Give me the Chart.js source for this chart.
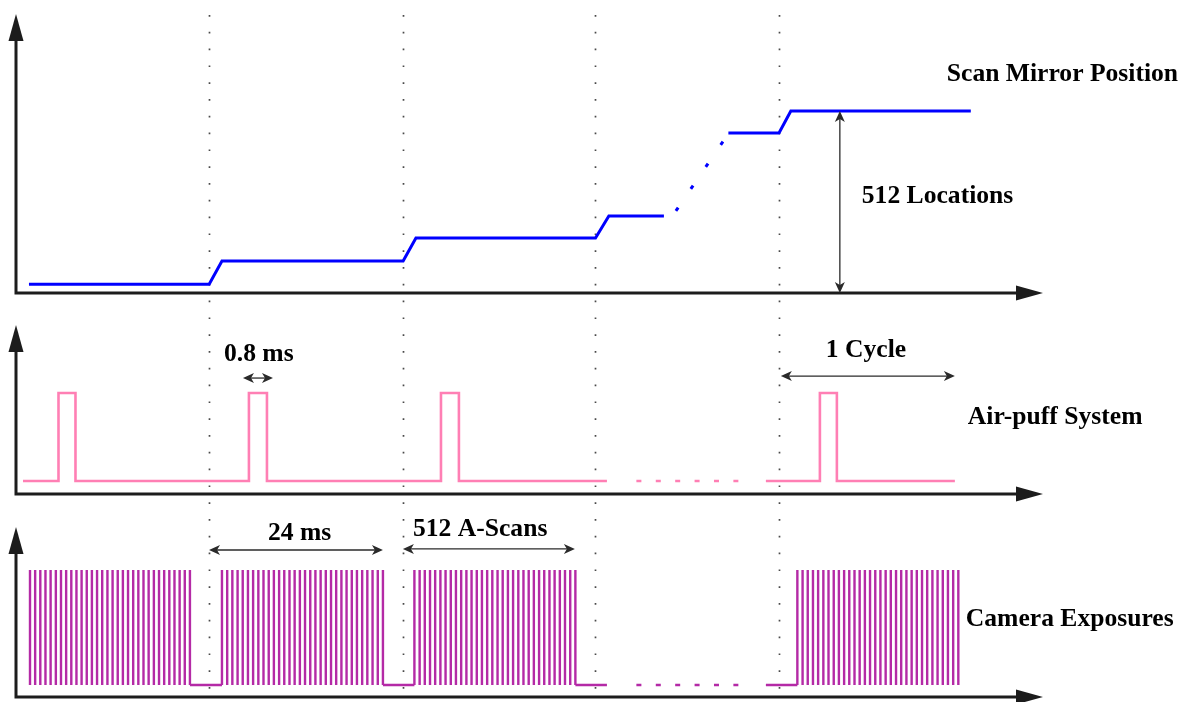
<!DOCTYPE html>
<html>
<head>
<meta charset="utf-8">
<title>OCT air-puff acquisition timing</title>
<script src="https://cdn.jsdelivr.net/npm/chart.js@4/dist/chart.umd.min.js"></script>
<style>
  html, body { margin: 0; padding: 0; background: #fff; }
  #wrap { width: 1182px; height: 702px; }
</style>
</head>
<body>
<div id="wrap"><canvas id="timing" width="1182" height="702"></canvas></div>
<script>
// Time axis in ms; cycle boundaries (dotted guides)
const cycleMarks = [24.0, 48.1, 72.0, 94.8];

// Scan mirror position (locations), one plateau per cycle
const mirrorTime = [1.61, 24.0, 25.59, 48.1, 49.69, 72.0, 73.66, 80.50, 84.5, 88.51, 94.8, 96.27, 118.63];
const mirrorPos  = [25, 25, 90, 90, 155, 155, 217, 217, null, 450, 450, 512, 512];
// elided middle of the staircase
const mirrorSkipTime = [81.99, 87.89];
const mirrorSkipPos  = [231, 428];

// Air-puff trigger: on / off edges and the drawn stretches of the trace
const puffOn  = [5.28, 28.94, 52.80, 99.88];
const puffOff = [7.39, 31.18, 55.03, 101.99];
const puffSpans = [[0.87, 73.42], [93.17, 116.65]];

// elided stretch of the time axis (drawn dashed on the lower traces)
const skipSpan = [77.08, 89.75];

// Camera exposures (one line per A-scan) in four bursts
const exposuresA = [1.74, 2.38, 3.02, 3.66, 4.30, 4.95, 5.59, 6.23, 6.87, 7.51, 8.15, 8.79, 9.43, 10.07, 10.71, 11.36,
                    12.00, 12.64, 13.28, 13.92, 14.56, 15.20, 15.84, 16.48, 17.13, 17.77, 18.41, 19.05, 19.69, 20.33, 20.97, 21.61];
const exposuresB = [25.59, 26.24, 26.88, 27.53, 28.17, 28.82, 29.46, 30.11, 30.75, 31.40, 32.04, 32.69, 33.33, 33.98, 34.62, 35.27,
                    35.91, 36.56, 37.20, 37.85, 38.49, 39.14, 39.78, 40.43, 41.07, 41.72, 42.36, 43.01, 43.65, 44.30, 44.95, 45.59];
const exposuresC = [49.50, 50.15, 50.79, 51.44, 52.08, 52.73, 53.37, 54.02, 54.66, 55.31, 55.96, 56.60, 57.25, 57.89, 58.54, 59.18,
                    59.83, 60.47, 61.12, 61.76, 62.41, 63.05, 63.70, 64.34, 64.99, 65.63, 66.28, 66.92, 67.57, 68.21, 68.86, 69.50];
const exposuresD = [97.08, 97.73, 98.37, 99.02, 99.66, 100.31, 100.95, 101.60, 102.24, 102.89, 103.53, 104.18, 104.82, 105.47, 106.11, 106.76,
                    107.40, 108.05, 108.69, 109.34, 109.98, 110.63, 111.28, 111.92, 112.57, 113.21, 113.86, 114.50, 115.15, 115.79, 116.44, 117.08];
// camera idle (low) stretches between bursts
const cameraIdle = [[21.61, 25.59], [45.59, 49.50], [69.50, 73.42], [93.17, 97.08]];

// ---- build point lists for the library ----
const mirrorPoints = mirrorTime.map((t, i) => ({x: t, y: mirrorPos[i]}));
const mirrorSkipPoints = mirrorSkipTime.map((t, i) => ({x: t, y: mirrorSkipPos[i]}));

const puffPoints = [];
puffSpans.forEach(([a, b]) => {
  puffPoints.push({x: a, y: 0});
  puffOn.forEach((on, i) => {
    if (on > a && on < b) {
      puffPoints.push({x: on, y: 0}, {x: on, y: 1}, {x: puffOff[i], y: 1}, {x: puffOff[i], y: 0});
    }
  });
  puffPoints.push({x: b, y: 0}, {x: b, y: null});
});

const exposurePoints = [];
[exposuresA, exposuresB, exposuresC, exposuresD].forEach(burst => {
  burst.forEach(t => exposurePoints.push({x: t, y: 0}, {x: t, y: 1}, {x: t, y: null}));
});
const idlePoints = [];
cameraIdle.forEach(([a, b]) => idlePoints.push({x: a, y: 0}, {x: b, y: 0}, {x: b, y: null}));
const skipPoints = [{x: skipSpan[0], y: 0}, {x: skipSpan[1], y: 0}];

const BLUE = '#0000ff';
const PINK = '#ff7fb4';
const PURPLE = '#b42aa6';
const INK = '#1c1c1c';

// baseline value of each panel's horizontal axis
const axisBase = {yMirror: 0, yPuff: -0.148, yCam: -0.104};

function arrowHead(ctx, tipX, tipY, dirX, dirY, len, half, notch) {
  const nx = -dirY, ny = dirX;
  const bx = tipX - dirX * len, by = tipY - dirY * len;
  ctx.beginPath();
  ctx.moveTo(tipX, tipY);
  ctx.lineTo(bx + nx * half, by + ny * half);
  ctx.lineTo(tipX - dirX * (len - notch), tipY - dirY * (len - notch));
  ctx.lineTo(bx - nx * half, by - ny * half);
  ctx.closePath();
  ctx.fill();
}

function doubleArrow(ctx, x1, y1, x2, y2) {
  const d = Math.hypot(x2 - x1, y2 - y1);
  const ux = (x2 - x1) / d, uy = (y2 - y1) / d;
  ctx.save();
  ctx.strokeStyle = '#2a2a2a';
  ctx.fillStyle = '#2a2a2a';
  ctx.lineWidth = 1.3;
  ctx.beginPath();
  ctx.moveTo(x1 + ux * 3, y1 + uy * 3);
  ctx.lineTo(x2 - ux * 3, y2 - uy * 3);
  ctx.stroke();
  arrowHead(ctx, x1, y1, -ux, -uy, 11, 5, 3);
  arrowHead(ctx, x2, y2, ux, uy, 11, 5, 3);
  ctx.restore();
}

const diagramPlugin = {
  id: 'timingDiagram',
  beforeDatasetsDraw(chart) {
    const {ctx, scales: {x}} = chart;
    ctx.save();
    ctx.strokeStyle = '#4a4a4a';
    ctx.lineWidth = 1.7;
    ctx.setLineDash([1.7, 15.1]);
    cycleMarks.forEach(t => {
      const px = Math.round(x.getPixelForValue(t)) + 0.5;
      ctx.beginPath();
      ctx.moveTo(px, chart.chartArea.top + 1);
      ctx.lineTo(px, chart.height);
      ctx.stroke();
    });
    ctx.restore();
  },
  afterDatasetsDraw(chart) {
    const {ctx, scales} = chart;
    const x = scales.x;
    const x0 = x.getPixelForValue(0);
    ctx.save();
    // panel axes with arrow tips
    ctx.strokeStyle = INK;
    ctx.fillStyle = INK;
    ctx.lineWidth = 3;
    ['yMirror', 'yPuff', 'yCam'].forEach(id => {
      const ys = scales[id];
      const y0 = ys.getPixelForValue(axisBase[id]);
      ctx.beginPath();
      ctx.moveTo(x0, y0 + 1.5);
      ctx.lineTo(x0, ys.top + 20);
      ctx.moveTo(x0 - 1.5, y0);
      ctx.lineTo(x.right - 20, y0);
      ctx.stroke();
      arrowHead(ctx, x0, ys.top, 0, -1, 27, 7.5, 0);
      arrowHead(ctx, x.right, y0, 1, 0, 27, 7.5, 0);
    });
    ctx.restore();

    const yM = scales.yMirror, yP = scales.yPuff, yC = scales.yCam;
    const px = v => x.getPixelForValue(v);

    // dimension arrows
    doubleArrow(ctx, px(102.36), yM.getPixelForValue(512), px(102.36), yM.getPixelForValue(0));
    doubleArrow(ctx, px(28.2), yP.getPixelForValue(1.17), px(31.93), yP.getPixelForValue(1.17));
    doubleArrow(ctx, px(95.03), yP.getPixelForValue(1.193), px(116.65), yP.getPixelForValue(1.193));
    doubleArrow(ctx, px(23.98), yC.getPixelForValue(1.174), px(45.59), yC.getPixelForValue(1.174));
    doubleArrow(ctx, px(48.07), yC.getPixelForValue(1.183), px(69.44), yC.getPixelForValue(1.183));

    // labels
    ctx.save();
    ctx.fillStyle = '#000';
    ctx.font = 'bold 25.6px "Liberation Serif", "Times New Roman", serif';
    ctx.textAlign = 'left';
    ctx.textBaseline = 'alphabetic';
    const label = (s, t, scale, v) => ctx.fillText(s, px(t), scale.getPixelForValue(v));
    label('Scan Mirror Position', 115.65, yM, 596);
    label('512 Locations', 105.09, yM, 252);
    label('0.8 ms', 25.84, yP, 1.367);
    label('1 Cycle', 100.62, yP, 1.409);
    label('Air-puff System', 118.26, yP, 0.648);
    label('24 ms', 31.30, yC, 1.261);
    label('512 A-Scans', 49.32, yC, 1.296);
    label('Camera Exposures', 118.01, yC, 0.513);
    ctx.restore();
  }
};

const lineDefaults = {pointRadius: 0, pointHoverRadius: 0, tension: 0, fill: false, spanGaps: false, borderCapStyle: 'butt', borderJoinStyle: 'miter'};

new Chart(document.getElementById('timing'), {
  type: 'line',
  data: {
    datasets: [
      Object.assign({label: 'Scan Mirror Position', data: mirrorPoints, yAxisID: 'yMirror', borderColor: BLUE, borderWidth: 3}, lineDefaults),
      Object.assign({label: 'mirror (elided)', data: mirrorSkipPoints, yAxisID: 'yMirror', borderColor: BLUE, borderWidth: 3, borderDash: [4, 22.6]}, lineDefaults),
      Object.assign({label: 'Air-puff System', data: puffPoints, yAxisID: 'yPuff', borderColor: PINK, borderWidth: 2.6}, lineDefaults),
      Object.assign({label: 'air-puff (elided)', data: skipPoints, yAxisID: 'yPuff', borderColor: PINK, borderWidth: 2.6, borderDash: [5, 14.4]}, lineDefaults),
      Object.assign({label: 'Camera Exposures', data: exposurePoints, yAxisID: 'yCam', borderColor: PURPLE, borderWidth: 2.4}, lineDefaults),
      Object.assign({label: 'camera idle', data: idlePoints, yAxisID: 'yCam', borderColor: PURPLE, borderWidth: 2.6}, lineDefaults),
      Object.assign({label: 'camera (elided)', data: skipPoints, yAxisID: 'yCam', borderColor: PURPLE, borderWidth: 2.6, borderDash: [5, 14.4]}, lineDefaults)
    ]
  },
  options: {
    responsive: false,
    devicePixelRatio: 1,
    animation: false,
    events: [],
    layout: {padding: {left: 16, right: 139, top: 14, bottom: 0}},
    plugins: {legend: {display: false}, tooltip: {enabled: false}, title: {display: false}},
    scales: {
      x: {type: 'linear', position: 'bottom', min: 0, max: 127.6, display: false},
      yMirror: {type: 'linear', position: 'left', stack: 'panels', stackWeight: 311, weight: 3, min: -90, max: 785, display: false},
      yPuff: {type: 'linear', position: 'left', stack: 'panels', stackWeight: 202, weight: 2, min: -0.523, max: 1.773, display: false},
      yCam: {type: 'linear', position: 'left', stack: 'panels', stackWeight: 175, weight: 1, min: -0.148, max: 1.374, display: false}
    }
  },
  plugins: [diagramPlugin]
});
</script>
</body>
</html>
